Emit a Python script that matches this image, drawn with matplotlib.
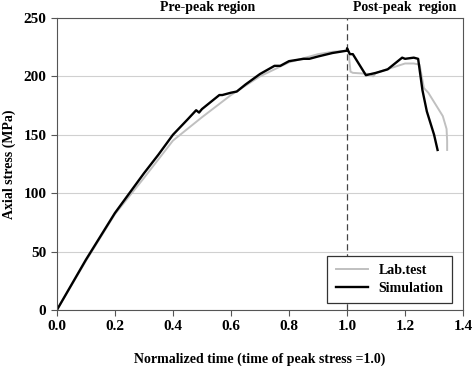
import numpy as np
import matplotlib.pyplot as plt

plt.rcParams['font.family'] = ['Liberation Serif', 'DejaVu Serif']
plt.rcParams['font.weight'] = 'bold'
plt.rcParams['axes.labelweight'] = 'bold'

# Simulation curve (black)
sim_x = [0.0, 0.1, 0.2, 0.25, 0.3, 0.35, 0.4, 0.45, 0.48, 0.49, 0.5, 0.53, 0.56, 0.57,
         0.6, 0.62, 0.65, 0.7, 0.75, 0.77, 0.8, 0.85, 0.87, 0.9, 0.95, 1.0, 1.0,
         1.01, 1.02, 1.065, 1.1, 1.14, 1.19, 1.2, 1.23, 1.245, 1.26, 1.275, 1.3, 1.312]
sim_y = [0, 43, 83, 100, 117, 133, 150, 163, 171, 169, 172, 178, 184, 184,
         186, 187, 193, 202, 209, 209, 213, 215, 215, 217, 220, 222, 224,
         219, 219, 201, 203, 206, 216, 215, 216, 215, 188, 170, 150, 137]

# Lab test curve (gray)
lab_x = [0.0, 0.1, 0.2, 0.3, 0.4, 0.5, 0.6, 0.7, 0.8, 0.9, 0.95, 1.0, 1.005,
         1.012, 1.02, 1.08, 1.09, 1.1, 1.15, 1.2, 1.23, 1.25, 1.265, 1.28, 1.3,
         1.33, 1.343, 1.345, 1.345]
lab_y = [0, 42, 82, 113, 145, 165, 184, 200, 212, 219, 221, 222, 221,
         204, 203, 202, 200, 203, 207, 211, 211, 210, 190, 186, 178,
         166, 155, 145, 137]

fig = plt.figure(figsize=(4.74, 3.66), dpi=100)
ax = fig.add_axes([0.120, 0.153, 0.857, 0.798])

ax.grid(axis='y', color='#d0d0d0', linewidth=0.8)
ax.set_axisbelow(True)
ax.axvline(1.0, color='#444444', linestyle=(0, (5, 3)), linewidth=0.9)

ax.plot(lab_x, lab_y, color='#c0c0c0', linewidth=1.4, label='Lab.test')
ax.plot(sim_x, sim_y, color='black', linewidth=1.7, label='Simulation')

ax.set_xlim(0, 1.4)
ax.set_ylim(0, 250)
ax.set_xticks(np.arange(0, 1.41, 0.2))
ax.set_xticklabels([f'{v:.1f}' for v in np.arange(0, 1.41, 0.2)])
ax.set_yticks(range(0, 251, 50))
ax.tick_params(direction='out', length=4, labelsize=11, color='#555555')
for s in ax.spines.values():
    s.set_color('#555555')

ax.set_xlabel('Normalized time (time of peak stress =1.0)', fontsize=10, labelpad=14)
ax.set_ylabel('Axial stress (MPa)', fontsize=10, va='center')
ax.yaxis.set_label_coords(-0.118, 0.5)

ax.text(0.52, 253, 'Pre-peak region', ha='center', va='bottom', fontsize=10)
ax.text(1.2, 253, 'Post-peak  region', ha='center', va='bottom', fontsize=10)

leg = ax.legend(loc='lower right', fontsize=10, fancybox=False, framealpha=1,
                edgecolor='#333333', handlelength=2.3, borderpad=0.6,
                labelspacing=0.35, bbox_to_anchor=(0.99, 0.0))
leg.get_frame().set_linewidth(0.9)

fig.savefig('out.png', dpi=100)
